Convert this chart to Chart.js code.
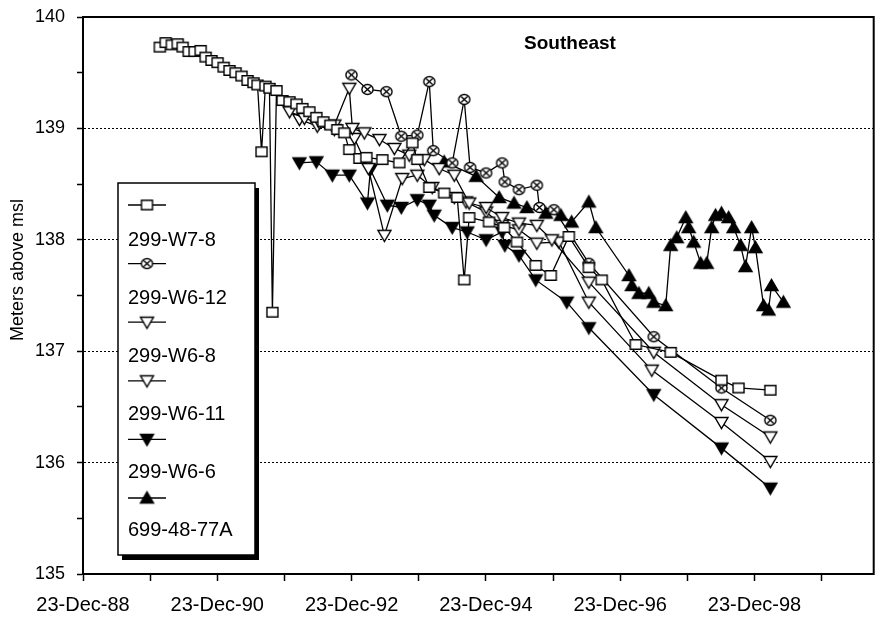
<!DOCTYPE html>
<html>
<head>
<meta charset="utf-8">
<script src="https://cdn.jsdelivr.net/npm/chart.js@4.4.0/dist/chart.umd.min.js"></script>
<style>
  html, body { margin: 0; padding: 0; background: #fff; }
</style>
</head>
<body>
<canvas id="levels" width="880" height="624"></canvas>
<script>
// well names (legend order)
const seriesNames = ['299-W7-8', '299-W6-12', '299-W6-8', '299-W6-11', '299-W6-6', '699-48-77A'];

// 299-W7-8
const w78Dates = ['1990-02-14','1990-03-18','1990-04-20','1990-05-22','1990-06-18','1990-07-21','1990-08-22','1990-09-24','1990-10-21','1990-11-22','1990-12-25',
  '1991-01-27','1991-02-28','1991-04-02','1991-05-04','1991-06-06','1991-07-08','1991-07-30','1991-08-21','1991-09-11','1991-10-03','1991-10-19','1991-11-10','1991-12-13',
  '1992-01-20','1992-02-27','1992-03-30','1992-05-07','1992-06-14','1992-07-22','1992-08-29','1992-10-06','1992-11-13','1992-12-10',
  '1993-02-03','1993-03-13','1993-06-08','1993-09-08','1993-11-18','1993-12-15',
  '1994-02-18','1994-05-10','1994-07-20','1994-08-27','1994-09-23',
  '1995-01-09','1995-04-01','1995-06-10','1995-09-20','1995-12-11',
  '1996-03-18','1996-07-05','1996-09-13','1997-03-17','1997-09-23','1998-06-26','1998-09-27','1999-03-19'];
const w78Values = [139.73,139.77,139.75,139.76,139.73,139.69,139.69,139.70,139.64,139.61,139.59,
  139.55,139.52,139.50,139.47,139.43,139.41,139.39,138.79,139.38,139.36,137.35,139.34,139.25,
  139.24,139.22,139.18,139.15,139.10,139.06,139.03,138.99,138.96,138.81,
  138.73,138.74,138.72,138.69,138.87,138.72,
  138.47,138.42,138.38,137.64,138.20,
  138.16,138.11,137.98,137.77,137.68,
  138.03,137.75,137.64,137.06,136.99,136.74,136.67,136.65];

// 299-W6-12
const w612Dates = ['1992-12-22','1993-03-19','1993-06-30','1993-09-19','1993-12-15','1994-02-18','1994-03-12','1994-06-23','1994-08-27','1994-09-28',
  '1994-12-24','1995-03-21','1995-04-05','1995-06-21','1995-09-26','1995-10-10','1995-12-28','1996-07-05','1997-06-23','1998-06-26','1999-03-19'];
const w612Values = [139.48,139.35,139.33,138.93,138.94,139.42,138.80,138.69,139.26,138.65,
  138.60,138.69,138.52,138.45,138.49,138.29,138.27,137.79,137.13,136.67,136.38];

// 299-W6-8
const w68Dates = ['1992-01-20','1992-04-10','1992-07-01','1992-09-20','1992-12-10','1992-12-27','1993-03-02','1993-05-23','1993-08-12','1993-11-01',
  '1994-01-22','1994-04-13','1994-07-04','1994-09-23','1994-12-24','1995-03-21','1995-06-21','1995-09-26','1995-12-17','1996-07-05','1997-06-23','1998-06-26','1999-03-19'];
const w68Values = [139.15,139.09,139.05,139.03,139.36,139.00,138.96,138.90,138.82,138.76,
  138.72,138.64,138.58,138.33,138.29,138.20,138.15,138.13,138.00,137.62,136.99,136.52,136.23];

// 299-W6-11
const w611Dates = ['1992-03-14','1992-06-19','1992-09-20','1993-01-07','1993-03-24','1993-06-19','1993-09-24','1993-12-15','1994-03-06','1994-07-04',
  '1994-09-06','1994-12-24','1995-03-21','1995-06-21','1995-09-26','1996-01-24','1996-07-05','1997-06-12','1998-06-26','1999-03-19'];
const w611Values = [139.08,139.02,138.99,138.91,138.64,138.04,138.55,138.58,138.47,138.38,
  138.34,138.25,138.13,138.09,137.97,137.98,137.44,136.83,136.36,136.01];

// 299-W6-6
const w66Dates = ['1992-03-14','1992-06-14','1992-09-09','1992-12-10','1993-03-19','1993-04-04','1993-07-05','1993-09-19','1993-12-15','1994-02-18',
  '1994-03-17','1994-06-23','1994-09-12','1994-12-24','1995-03-21','1995-04-05','1995-06-21','1995-09-20','1996-03-07','1996-07-05','1997-06-23','1998-06-26','1999-03-19'];
const w66Values = [138.69,138.70,138.58,138.58,138.33,138.63,138.31,138.29,138.36,138.31,
  138.22,138.11,138.07,138.00,138.07,137.95,137.86,137.64,137.44,137.21,136.61,136.13,135.77];

// 699-48-77A
const w77aDates = ['1994-05-10','1994-10-31','1995-03-05','1995-05-25','1995-08-03','1995-11-14','1996-02-04','1996-04-02','1996-07-05','1996-08-12',
  '1997-02-08','1997-02-24','1997-04-03','1997-05-27','1997-06-23','1997-08-27','1997-09-23','1997-10-26','1997-12-14','1997-12-30',
  '1998-01-26','1998-03-05','1998-04-07','1998-05-04','1998-05-25','1998-06-26','1998-08-04','1998-08-31','1998-10-08','1998-11-04','1998-12-07','1998-12-28',
  '1999-02-10','1999-03-09','1999-03-25','1999-05-29'];
const w77aValues = [138.70,138.57,138.38,138.33,138.29,138.24,138.22,138.16,138.34,138.11,
  137.68,137.59,137.52,137.52,137.44,137.41,137.95,138.02,138.20,138.11,
  137.98,137.79,137.79,138.11,138.22,138.24,138.20,138.11,137.95,137.76,138.11,137.93,
  137.41,137.37,137.59,137.44];

// axis ticks
const xTickYears = [1988,1989,1990,1991,1992,1993,1994,1995,1996,1997,1998,1999];
const xLabelYears = [1988,1990,1992,1994,1996,1998];
const yTickLabels = [135,136,137,138,139,140];

const seriesDates = [w78Dates, w612Dates, w68Dates, w611Dates, w66Dates, w77aDates];
const seriesValues = [w78Values, w612Values, w68Values, w611Values, w66Values, w77aValues];
const markerKinds = ['square', 'circleX', 'triDown', 'triDown', 'triDownFilled', 'triUpFilled'];

const FONT = "'Liberation Sans', Arial, sans-serif";

function makeMarker(kind) {
  const c = document.createElement('canvas');
  c.width = 17; c.height = 17;
  const g = c.getContext('2d');
  g.translate(8.5, 8.5);
  g.lineWidth = 1.4;
  g.strokeStyle = '#000';
  g.fillStyle = kind.endsWith('Filled') ? '#000' : '#fff';
  g.beginPath();
  if (kind === 'square') g.rect(-5.5, -4.8, 11, 9.6);
  else if (kind === 'circleX') g.ellipse(0, 0, 5.6, 5, 0, 0, Math.PI * 2);
  else if (kind.startsWith('triDown')) { g.moveTo(-6.5, -5); g.lineTo(6.5, -5); g.lineTo(0, 6); g.closePath(); }
  else { g.moveTo(-6.5, 5); g.lineTo(6.5, 5); g.lineTo(0, -6); g.closePath(); }
  g.fill();
  g.stroke();
  if (kind === 'circleX') {
    g.beginPath();
    g.moveTo(-3.2, -2.9); g.lineTo(3.2, 2.9);
    g.moveTo(3.2, -2.9); g.lineTo(-3.2, 2.9);
    g.stroke();
  }
  return c;
}
const markers = markerKinds.map(makeMarker);

const toTime = s => Date.parse(s + 'T00:00:00Z');

const datasets = seriesNames.map((name, i) => ({
  label: name,
  data: seriesDates[i].map((d, j) => ({ x: toTime(d), y: seriesValues[i][j] })),
  borderColor: '#000',
  borderWidth: 1.3,
  pointStyle: markers[i],
  pointRadius: 5,
  tension: 0,
  fill: false
}));

// title, y caption, plot frame and the boxed legend
const decorations = {
  id: 'decorations',
  afterDraw(chart) {
    const { ctx, chartArea: a } = chart;
    ctx.save();
    ctx.strokeStyle = '#000';
    ctx.lineWidth = 2;
    ctx.strokeRect(a.left, a.top, a.right - a.left, a.bottom - a.top);

    ctx.fillStyle = '#000';
    ctx.font = 'bold 19px ' + FONT;
    ctx.textAlign = 'center';
    ctx.textBaseline = 'middle';
    ctx.fillText('Southeast', 570, 44);

    ctx.save();
    ctx.translate(18, 270);
    ctx.rotate(-Math.PI / 2);
    ctx.font = '18px ' + FONT;
    ctx.fillText('Meters above msl', 0, 0);
    ctx.restore();

    // legend box with drop shadow
    const bx = 118, by = 183, bw = 137, bh = 372;
    ctx.fillStyle = '#000';
    ctx.fillRect(bx + 4, by + 5, bw, bh);
    ctx.fillStyle = '#fff';
    ctx.fillRect(bx, by, bw, bh);
    ctx.lineWidth = 1.5;
    ctx.strokeRect(bx, by, bw, bh);

    ctx.font = '20px ' + FONT;
    ctx.textAlign = 'left';
    ctx.textBaseline = 'middle';
    seriesNames.forEach((name, i) => {
      const my = 205 + i * 58.6;
      ctx.strokeStyle = '#000';
      ctx.lineWidth = 1.3;
      ctx.beginPath();
      ctx.moveTo(128, my);
      ctx.lineTo(166, my);
      ctx.stroke();
      ctx.drawImage(markers[i], 147 - 8.5, my - 8.5);
      ctx.fillStyle = '#000';
      ctx.fillText(name, 128, 240 + i * 58);
    });
    ctx.restore();
  }
};

new Chart(document.getElementById('levels'), {
  type: 'line',
  data: { datasets },
  options: {
    responsive: false,
    animation: false,
    layout: { padding: { top: 17, right: 5, left: 0, bottom: 0 } },
    plugins: { legend: { display: false }, tooltip: { enabled: false } },
    scales: {
      x: {
        type: 'linear',
        min: Date.UTC(1988, 11, 23),
        max: Date.UTC(2000, 9, 1),
        afterBuildTicks(scale) {
          scale.ticks = xTickYears.map(y => ({ value: Date.UTC(y, 11, 23) }));
        },
        afterFit(scale) {
          scale.height = 50;
          scale.paddingLeft = 0;
          scale.paddingRight = 0;
        },
        ticks: {
          autoSkip: false,
          maxRotation: 0,
          minRotation: 0,
          padding: 12,
          color: '#000',
          font: { family: FONT, size: 20 },
          callback(value) {
            const y = new Date(value).getUTCFullYear();
            return xLabelYears.includes(y) ? '23-Dec-' + String(y).slice(2) : '';
          }
        },
        grid: { drawOnChartArea: false, tickColor: '#000', tickLength: 7, tickWidth: 1.5 },
        border: { color: '#000', width: 2 }
      },
      y: {
        min: 135,
        max: 140,
        afterFit(scale) {
          scale.width = 83;
          scale.paddingTop = 0;
          scale.paddingBottom = 0;
        },
        ticks: {
          stepSize: 0.5,
          autoSkip: false,
          padding: 12,
          color: '#000',
          font: { family: FONT, size: 18 },
          callback: v => (yTickLabels.includes(v) ? String(v) : '')
        },
        grid: {
          color: ctx => {
            const v = ctx.tick ? ctx.tick.value : null;
            return (Number.isInteger(v) && v > 135 && v < 140) ? '#000' : 'rgba(0,0,0,0)';
          },
          lineWidth: 1,
          tickColor: '#000',
          tickLength: 6,
          tickWidth: 1.5,
          tickBorderDash: []
        },
        border: { color: '#000', width: 2, dash: [2, 2] }
      }
    }
  },
  plugins: [decorations]
});
</script>
</body>
</html>
